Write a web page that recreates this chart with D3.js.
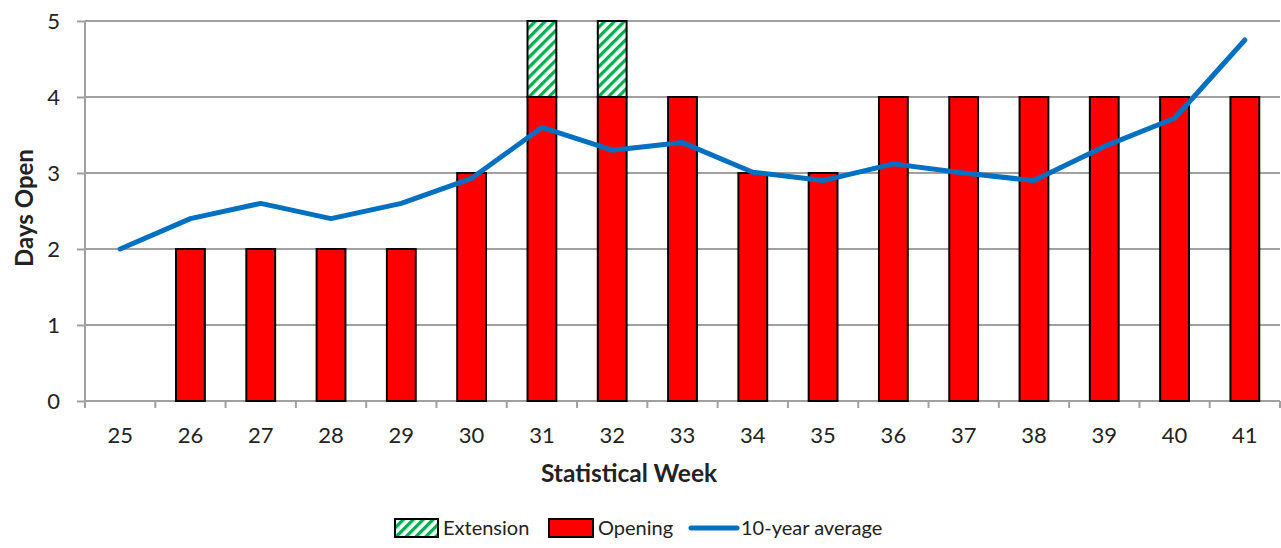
<!DOCTYPE html>
<html><head><meta charset="utf-8">
<script src="https://cdn.jsdelivr.net/npm/d3@7"></script>
<style>body{margin:0;background:#fff}svg{display:block}text{font-family:Lato,"Open Sans",sans-serif;fill:#222}</style>
</head><body><svg id="c" width="1281" height="548"></svg>
<script>
const weeks = [25,26,27,28,29,30,31,32,33,34,35,36,37,38,39,40,41];
const opening = [0,2,2,2,2,3,4,4,4,3,3,4,4,4,4,4,4];
const extension = [0,0,0,0,0,0,1,1,0,0,0,0,0,0,0,0,0];
const average = [2.0,2.4,2.6,2.4,2.6,2.93,3.6,3.3,3.4,3.01,2.9,3.12,3.0,2.9,3.35,3.72,4.75];
const yTicks = [0,1,2,3,4,5];

const svg = d3.select("#c");
const m = {l:85, r:1280, t:21, b:401};
const x = d3.scaleBand().domain(weeks).range([m.l, m.r]).paddingInner(0).paddingOuter(0);
const y = d3.scaleLinear().domain([0,5]).range([m.b, m.t]);
const bw = x.bandwidth()*0.41;

const defs = svg.append("defs");
const pat = defs.append("pattern").attr("id","hatch").attr("patternUnits","userSpaceOnUse")
  .attr("width",7).attr("height",7).attr("patternTransform","rotate(45)");
pat.append("rect").attr("width",7).attr("height",7).attr("fill","#fff");
pat.append("rect").attr("x",0).attr("y",0).attr("width",3.3).attr("height",7).attr("fill","#00b050");

// gridlines
svg.append("g").selectAll("line").data(yTicks.filter(d=>d>0)).join("line")
  .attr("x1",m.l).attr("x2",m.r).attr("y1",d=>y(d)).attr("y2",d=>y(d))
  .attr("stroke","#a0a0a0").attr("stroke-width",2);

// y axis
const ya = svg.append("g").attr("transform",`translate(${m.l},0)`)
  .call(d3.axisLeft(y).tickValues(yTicks).tickFormat(d3.format("d")).tickSize(8).tickPadding(17));
ya.select(".domain").attr("stroke","#a0a0a0").attr("stroke-width",2).attr("d",`M0,${m.t}V${m.b+7}`);
ya.selectAll(".tick line").attr("stroke","#a0a0a0").attr("stroke-width",2);
ya.selectAll("text").attr("font-size",22).attr("font-family","Lato, sans-serif").attr("fill","#222");

// x axis
const xa = svg.append("g").attr("transform",`translate(0,${m.b})`)
  .call(d3.axisBottom(x).tickSize(0).tickPadding(26));
xa.select(".domain").attr("stroke","#a0a0a0").attr("stroke-width",2).attr("d",`M${m.l},0H${m.r}`);
xa.selectAll("text").attr("font-size",22).attr("font-family","Lato, sans-serif").attr("fill","#222");
svg.append("g").selectAll("line").data(weeks).join("line")
  .attr("x1",d=>x(d)+x.bandwidth()).attr("x2",d=>x(d)+x.bandwidth())
  .attr("y1",m.b).attr("y2",m.b+7).attr("stroke","#a0a0a0").attr("stroke-width",2);

// bars
const bars = svg.append("g");
bars.selectAll("rect.op").data(weeks.map((w,i)=>({w,v:opening[i]})).filter(d=>d.v>0)).join("rect")
  .attr("x",d=>x(d.w)+x.bandwidth()/2-bw/2).attr("width",bw)
  .attr("y",d=>y(d.v)).attr("height",d=>y(0)-y(d.v))
  .attr("fill","#ff0000").attr("stroke","#000").attr("stroke-width",2);
bars.selectAll("rect.ex").data(weeks.map((w,i)=>({w,b:opening[i],v:extension[i]})).filter(d=>d.v>0)).join("rect")
  .attr("x",d=>x(d.w)+x.bandwidth()/2-bw/2).attr("width",bw)
  .attr("y",d=>y(d.b+d.v)).attr("height",d=>y(d.b)-y(d.b+d.v))
  .attr("fill","url(#hatch)").attr("stroke","#000").attr("stroke-width",2);

// line
const line = d3.line().x((d,i)=>x(weeks[i])+x.bandwidth()/2).y(d=>y(d));
svg.append("path").datum(average).attr("d",line).attr("fill","none")
  .attr("stroke","#0070c0").attr("stroke-width",5).attr("stroke-linejoin","round").attr("stroke-linecap","round");

// titles
svg.append("text").attr("transform","translate(33,208) rotate(-90)").attr("text-anchor","middle")
  .attr("font-size",24).attr("font-weight","bold").text("Days Open");
svg.append("text").attr("x",629).attr("y",482).attr("text-anchor","middle")
  .attr("font-size",24.5).attr("font-weight","bold").text("Statistical Week");

// legend
const lg = svg.append("g");
lg.append("rect").attr("x",395).attr("y",519).attr("width",43).attr("height",18).attr("fill","url(#hatch)").attr("stroke","#000").attr("stroke-width",2);
lg.append("text").attr("x",443).attr("y",535).attr("font-size",20).text("Extension");
lg.append("rect").attr("x",549).attr("y",519).attr("width",44).attr("height",18).attr("fill","#ff0000").attr("stroke","#000").attr("stroke-width",2);
lg.append("text").attr("x",598).attr("y",535).attr("font-size",20).text("Opening");
lg.append("line").attr("x1",691).attr("x2",737).attr("y1",528).attr("y2",528).attr("stroke","#0070c0").attr("stroke-width",5).attr("stroke-linecap","round");
lg.append("text").attr("x",741).attr("y",535).attr("font-size",20).text("10-year average");
</script></body></html>
